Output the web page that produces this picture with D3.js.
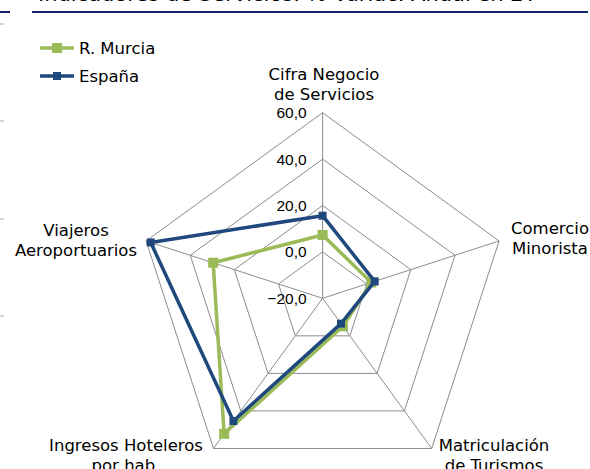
<!DOCTYPE html>
<html lang="es">
<head>
<meta charset="UTF-8">
<title>Indicadores de Servicios</title>
<script src="https://cdn.jsdelivr.net/npm/d3@7"></script>
<style>
  body { margin: 0; padding: 0; background: #fff; }
  svg { display: block; font-family: "DejaVu Sans", Verdana, sans-serif; }
  .grid { fill: none; stroke: #8c8c8c; stroke-width: 1px; }
  .tick text, .cat { fill: #000; font-size: 16.5px; }
  .tick text { font-size: 15.5px; }
</style>
</head>
<body>
<div id="chart"></div>
<script>
var categories = [
  ['Cifra Negocio', 'de Servicios'],
  ['Comercio', 'Minorista'],
  ['Matriculación', 'de Turismos'],
  ['Ingresos Hoteleros', 'por hab.'],
  ['Viajeros', 'Aeroportuarios']
];
var murcia = [7.3, 2.1, -5.1, 52.2, 29.6];
var espana = [15.6, 3.6, -6.5, 45.4, 57.9];
var tickValues = [-20, 0, 20, 40, 60];
var seriesNames = ['R. Murcia', 'España'];
var colors = ['#9bbb59', '#1f497d'];

var width = 590, height = 469;
var cx = 322.6, cy = 298.3, R = 185.6;

var svg = d3.select('#chart').append('svg')
  .attr('width', width).attr('height', height);

// title (cut off at the top of the picture)
svg.append('text')
  .attr('x', 38).attr('y', 1)
  .style('font-size', '21px')
  .text('Indicadores de Servicios. % Variac. Anual en 2T');
svg.append('line').attr('x1', 32).attr('x2', 588).attr('y1', 12).attr('y2', 12)
  .attr('stroke', '#14246b').attr('stroke-width', 2);
svg.append('line').attr('x1', 0).attr('x2', 10).attr('y1', 12).attr('y2', 12)
  .attr('stroke', '#14246b').attr('stroke-width', 2);
// little marks on the left edge
[24, 121, 219, 316].forEach(function(y) {
  svg.append('line').attr('x1', 0).attr('x2', 4).attr('y1', y).attr('y2', y)
    .attr('stroke', '#aaa').attr('stroke-width', 1);
});

var rScale = d3.scaleLinear().domain([-20, 60]).range([0, R]);
var angle = d3.scaleLinear().domain([0, categories.length]).range([0, 2 * Math.PI]);

function pt(i, v) {
  var a = angle(i), r = rScale(v);
  return [cx + r * Math.sin(a), cy - r * Math.cos(a)];
}

var g = svg.append('g');

// rings
tickValues.slice(1).forEach(function(t) {
  var pts = categories.map(function(c, i) { return pt(i, t); });
  g.append('path').attr('class', 'grid')
    .attr('d', d3.line()(pts) + 'Z');
});
// spokes
categories.forEach(function(c, i) {
  var p = pt(i, 60);
  g.append('line').attr('class', 'grid')
    .attr('x1', cx).attr('y1', cy).attr('x2', p[0]).attr('y2', p[1]);
});

// radial tick labels
var yAxisScale = d3.scaleLinear().domain([-20, 60]).range([cy, cy - R]);
var axis = d3.axisLeft(yAxisScale).tickValues(tickValues).tickSize(0).tickPadding(16)
  .tickFormat(function(d) { return d3.format('.1f')(d).replace('.', ','); });
var ax = svg.append('g').attr('transform', 'translate(' + cx + ',0)').call(axis);
ax.select('.domain').remove();
ax.selectAll('.tick text').attr('font-family', null).attr('font-size', null).attr('fill', null);

// category labels (centre x, first baseline)
var labelPos = [[324, 80], [550, 234], [494, 451], [126, 451], [76, 236]];
categories.forEach(function(c, i) {
  var t = svg.append('text').attr('class', 'cat')
    .attr('x', labelPos[i][0]).attr('y', labelPos[i][1]).attr('text-anchor', 'middle');
  c.forEach(function(line, k) {
    t.append('tspan').attr('x', labelPos[i][0]).attr('dy', k === 0 ? 0 : 20).text(line);
  });
});

// series
[murcia, espana].forEach(function(vals, s) {
  var pts = vals.map(function(v, i) { return pt(i, v); });
  svg.append('path')
    .attr('d', d3.line()(pts) + 'Z')
    .attr('fill', 'none').attr('stroke', colors[s]).attr('stroke-width', 3.5)
    .attr('stroke-linejoin', 'round');
  var ms = s === 0 ? 10 : 8;
  svg.selectAll('.m' + s).data(pts).enter().append('rect')
    .attr('x', function(d) { return d[0] - ms / 2; })
    .attr('y', function(d) { return d[1] - ms / 2; })
    .attr('width', ms).attr('height', ms)
    .attr('fill', colors[s]);
});

// legend
seriesNames.forEach(function(n, s) {
  var y = 48 + s * 28;
  var lg = svg.append('g');
  lg.append('line').attr('x1', 40).attr('x2', 74).attr('y1', y).attr('y2', y)
    .attr('stroke', colors[s]).attr('stroke-width', 3.5);
  var ms = s === 0 ? 10 : 8;
  lg.append('rect').attr('x', 57 - ms / 2).attr('y', y - ms / 2)
    .attr('width', ms).attr('height', ms).attr('fill', colors[s]);
  lg.append('text').attr('class', 'cat').attr('x', 79).attr('y', y + 6).text(n);
});
</script>
</body>
</html>
